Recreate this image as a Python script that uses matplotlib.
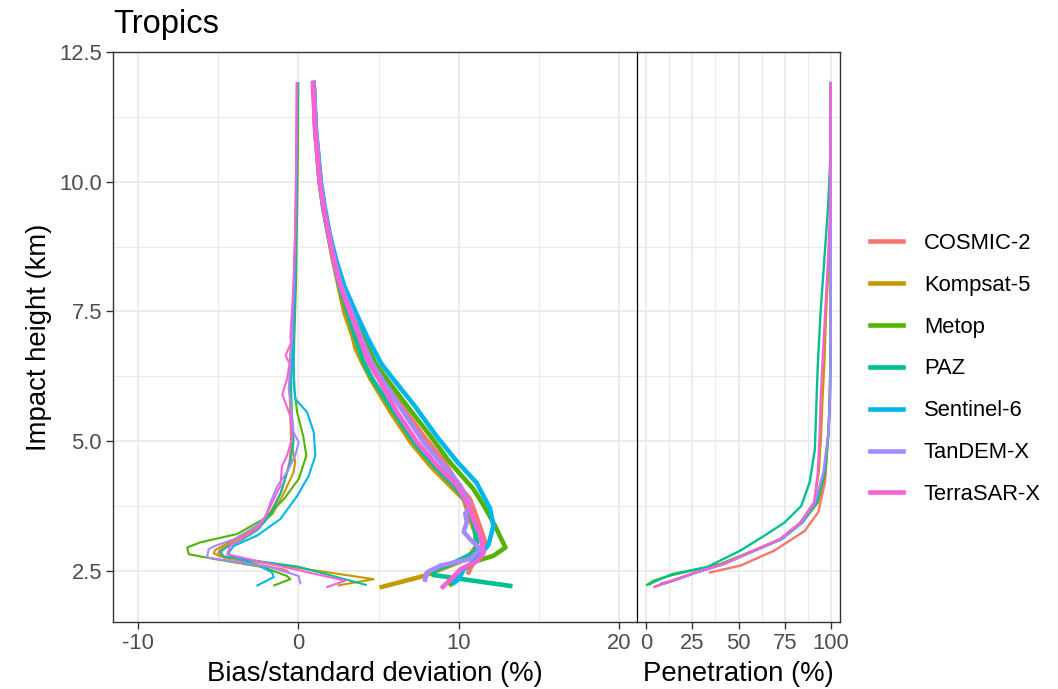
import matplotlib
matplotlib.use("Agg")
import matplotlib.pyplot as plt
from matplotlib.lines import Line2D
from matplotlib.ticker import FixedLocator

plt.rcParams['font.family'] = ['Liberation Sans', 'DejaVu Sans']

# ---------------- data ----------------
satellites = ["COSMIC-2", "Kompsat-5", "Metop", "PAZ", "Sentinel-6", "TanDEM-X", "TerraSAR-X"]
colors = ["#F8766D", "#C49A00", "#53B400", "#00C094", "#00B6EB", "#A58AFF", "#FB61D7"]

# standard deviation (%) vs impact height (km)
std_h = {
    "COSMIC-2":  [11.9, 11.0, 10.0, 9.5, 9.0, 8.5, 8.0, 7.5, 7.0, 6.5, 6.2, 5.7, 5.1, 4.6, 4.1, 3.88, 3.5, 3.05, 2.8, 2.6, 2.47],
    "Kompsat-5": [11.9, 11.0, 10.0, 9.5, 9.0, 8.5, 8.0, 7.5, 7.0, 6.8, 6.5, 6.2, 5.56, 4.98, 4.53, 4.14, 3.88, 3.5, 3.24, 2.98, 2.73, 2.6, 2.4, 2.19],
    "Metop":     [11.9, 11.0, 10.0, 9.5, 9.0, 8.5, 8.0, 7.5, 7.0, 6.5, 6.2, 5.69, 5.11, 4.59, 4.08, 3.76, 3.37, 2.95, 2.79, 2.69, 2.5, 2.35, 2.24],
    "PAZ":       [11.9, 11.0, 10.0, 9.5, 9.0, 8.5, 8.0, 7.5, 7.0, 6.5, 6.2, 5.56, 4.98, 4.53, 4.14, 3.82, 3.37, 3.05, 2.85, 2.66, 2.5, 2.42, 2.21],
    "Sentinel-6":[11.9, 11.0, 10.0, 9.5, 9.0, 8.5, 8.0, 7.5, 7.0, 6.5, 6.2, 5.7, 5.1, 4.6, 4.2, 3.7, 3.37, 3.0, 2.73, 2.53, 2.34, 2.27],
    "TanDEM-X":  [11.9, 11.0, 10.0, 9.5, 9.0, 8.5, 8.0, 7.5, 7.0, 6.5, 6.2, 5.56, 4.98, 4.53, 4.14, 3.76, 3.6, 3.44, 3.25, 3.11, 2.92, 2.73, 2.6, 2.47, 2.33],
    "TerraSAR-X":[11.9, 11.0, 10.0, 9.5, 9.0, 8.5, 8.0, 7.5, 7.0, 6.5, 6.2, 5.56, 4.98, 4.53, 4.14, 3.82, 3.5, 3.18, 2.85, 2.69, 2.53, 2.4, 2.19],
}
std_v = {
    "COSMIC-2":  [0.95, 1.07, 1.36, 1.6, 1.9, 2.25, 2.65, 3.3, 3.9, 4.55, 5.15, 6.4, 7.8, 9.1, 10.1, 10.7, 11.15, 11.65, 11.35, 10.8, 10.6],
    "Kompsat-5": [0.95, 1.05, 1.32, 1.55, 1.85, 2.15, 2.5, 2.85, 3.4, 3.55, 4.0, 4.5, 5.75, 7.0, 8.2, 9.45, 10.3, 10.7, 11.0, 11.1, 10.5, 9.45, 7.8, 5.2],
    "Metop":     [0.95, 1.08, 1.38, 1.62, 1.92, 2.25, 2.7, 3.4, 4.05, 4.8, 5.5, 6.75, 8.2, 9.45, 10.9, 11.55, 12.25, 12.9, 12.15, 11.1, 10.1, 9.8, 9.5],
    "PAZ":       [0.95, 1.05, 1.33, 1.55, 1.85, 2.2, 2.55, 3.05, 3.55, 4.1, 4.6, 5.95, 7.2, 8.45, 9.7, 10.5, 10.95, 11.15, 10.95, 9.7, 8.45, 8.4, 13.2],
    "Sentinel-6":[0.95, 1.1, 1.4, 1.65, 1.95, 2.35, 2.85, 3.55, 4.3, 5.15, 5.9, 7.2, 8.6, 9.9, 11.1, 11.95, 12.15, 11.85, 11.1, 10.3, 10.0, 9.7],
    "TanDEM-X":  [0.95, 1.07, 1.36, 1.6, 1.9, 2.25, 2.65, 3.3, 3.9, 4.6, 5.2, 6.55, 7.8, 9.05, 10.1, 10.7, 10.4, 10.5, 10.3, 10.7, 11.35, 10.7, 8.85, 8.0, 7.9],
    "TerraSAR-X":[0.9, 1.05, 1.33, 1.57, 1.87, 2.2, 2.6, 3.2, 3.8, 4.4, 5.0, 6.15, 7.4, 8.65, 9.9, 10.5, 10.9, 11.35, 11.55, 11.15, 10.1, 9.7, 9.0],
}

# bias (%) vs impact height (km)
bias_h = {
    "COSMIC-2":  [11.9, 11.0, 10.0, 9.0, 8.0, 7.5, 7.0, 6.5, 6.0, 5.5, 5.0, 4.6, 4.3, 4.0, 3.6, 3.3, 3.05, 2.9, 2.84, 2.75, 2.52, 2.47],
    "Kompsat-5": [11.9, 11.0, 10.0, 9.0, 8.0, 7.5, 7.0, 6.5, 6.0, 5.5, 5.0, 4.6, 4.4, 4.0, 3.6, 3.3, 3.05, 2.9, 2.84, 2.78, 2.34, 2.22],
    "Metop":     [11.9, 11.0, 10.0, 9.0, 8.0, 7.5, 7.0, 6.5, 6.0, 5.56, 5.1, 4.72, 4.27, 3.88, 3.5, 3.21, 3.05, 2.95, 2.82, 2.73, 2.57, 2.4, 2.34, 2.22],
    "PAZ":       [11.9, 11.0, 10.0, 9.0, 8.0, 7.5, 7.0, 6.5, 6.0, 5.5, 5.0, 4.6, 4.3, 4.0, 3.6, 3.3, 3.1, 2.95, 2.86, 2.78, 2.58, 2.23],
    "Sentinel-6":[11.9, 11.0, 10.0, 9.0, 8.0, 7.5, 7.0, 6.5, 6.0, 5.81, 5.56, 5.17, 4.72, 4.33, 3.94, 3.5, 3.18, 2.98, 2.85, 2.79, 2.62, 2.47, 2.38, 2.22],
    "TanDEM-X":  [11.9, 11.0, 10.0, 9.0, 8.0, 7.5, 7.0, 6.5, 6.0, 5.81, 5.17, 4.98, 4.72, 4.4, 4.14, 3.82, 3.56, 3.37, 3.11, 2.98, 2.92, 2.76, 2.57, 2.4, 2.26],
    "TerraSAR-X":[11.9, 11.0, 10.0, 9.0, 8.0, 7.5, 7.0, 6.9, 6.65, 6.5, 6.2, 5.9, 5.48, 5.04, 4.72, 4.52, 4.14, 3.75, 3.37, 3.18, 2.98, 2.82, 2.31, 2.19],
}
bias_v = {
    "COSMIC-2":  [-0.05, -0.08, -0.12, -0.18, -0.28, -0.35, -0.45, -0.5, -0.5, -0.45, -0.45, -0.55, -0.8, -1.1, -1.8, -2.7, -4.1, -4.9, -5.0, -4.6, -0.8, -0.6],
    "Kompsat-5": [-0.05, -0.08, -0.12, -0.18, -0.28, -0.35, -0.45, -0.5, -0.55, -0.5, -0.45, -0.2, -0.3, -0.9, -1.6, -2.8, -4.3, -5.2, -5.27, -4.9, 4.69, 2.5],
    "Metop":     [0.0, -0.02, -0.05, -0.1, -0.15, -0.2, -0.25, -0.3, -0.25, -0.08, 0.3, 0.5, 0.02, -0.91, -2.16, -3.82, -6.1, -6.93, -6.83, -5.27, -2.16, -0.71, -0.5, -1.5],
    "PAZ":       [-0.05, -0.08, -0.12, -0.18, -0.25, -0.3, -0.35, -0.4, -0.45, -0.4, -0.3, -0.5, -0.8, -1.1, -1.7, -2.5, -3.5, -4.5, -4.86, -4.65, 0.0, 4.2],
    "Sentinel-6":[-0.05, -0.08, -0.1, -0.15, -0.2, -0.25, -0.3, -0.3, -0.25, -0.19, 0.54, 0.96, 1.06, 0.64, -0.08, -1.12, -2.57, -4.03, -4.34, -4.24, -2.6, -1.64, -1.54, -2.55],
    "TanDEM-X":  [-0.1, -0.12, -0.15, -0.2, -0.3, -0.35, -0.4, -0.5, -0.6, -0.5, -0.3, 0.02, -0.2, -0.71, -1.3, -1.74, -2.0, -2.6, -4.0, -5.2, -5.59, -5.69, -1.74, 0.02, 0.12],
    "TerraSAR-X":[-0.1, -0.12, -0.15, -0.2, -0.3, -0.4, -0.5, -0.45, -0.8, -0.55, -0.7, -1.0, -0.5, -0.4, -0.71, -1.02, -1.12, -1.74, -2.37, -3.2, -4.24, -4.44, 2.93, 1.8],
}

# penetration (%) vs impact height (km)
pen_h = {
    "COSMIC-2":  [2.47, 2.6, 2.89, 3.27, 3.63, 4.21, 5.17, 5.81, 6.5, 8.0, 11.9],
    "Kompsat-5": [2.2, 2.31, 2.47, 2.63, 2.86, 3.11, 3.43, 3.82, 4.4, 5.17, 5.81, 6.5, 7.5, 8.5, 9.5, 11.9],
    "Metop":     [2.23, 2.31, 2.42, 2.5, 2.63, 2.86, 3.11, 3.43, 3.82, 4.4, 5.17, 5.81, 7.0, 11.9],
    "PAZ":       [2.24, 2.3, 2.44, 2.57, 2.89, 3.2, 3.43, 3.75, 4.21, 4.85, 5.81, 6.5, 7.5, 8.5, 9.5, 10.5, 11.9],
    "Sentinel-6":[2.24, 2.31, 2.47, 2.63, 2.86, 3.11, 3.43, 3.82, 4.4, 5.17, 5.81, 7.0, 11.9],
    "TanDEM-X":  [2.26, 2.31, 2.47, 2.63, 2.86, 3.11, 3.43, 3.82, 4.4, 5.17, 5.81, 7.0, 11.9],
    "TerraSAR-X":[2.19, 2.31, 2.47, 2.63, 2.86, 3.11, 3.43, 3.82, 4.4, 5.17, 5.81, 6.5, 7.5, 8.5, 9.5, 11.9],
}
pen_v = {
    "COSMIC-2":  [34.6, 51, 69.4, 85.9, 93.2, 96.9, 98.7, 99.4, 99.8, 100, 100],
    "Kompsat-5": [5, 14.5, 27, 41.5, 56.5, 72.5, 83.5, 91, 93.5, 94.8, 95.5, 96.5, 97.5, 99, 100, 100],
    "Metop":     [0.5, 4, 14, 24, 40, 56, 72.5, 84.5, 93, 97, 98.8, 99.5, 100, 100],
    "PAZ":       [1.6, 5, 14.3, 32.8, 51, 65, 74.9, 84, 88.6, 91.4, 92.3, 93, 94.5, 96.5, 98.5, 99.8, 100],
    "Sentinel-6":[8, 14.5, 27.5, 42, 57, 73.5, 84.5, 92, 96.5, 98.8, 99.5, 100, 100],
    "TanDEM-X":  [8, 14, 27, 41.8, 56.6, 73, 84, 91.4, 96, 98.7, 99.6, 100, 100],
    "TerraSAR-X":[4.4, 14, 26.5, 41.5, 56.5, 72.5, 83.5, 91, 93, 94, 94.5, 95.5, 97, 98.5, 99.7, 100],
}

# ---------------- figure ----------------
W, H = 1058, 689
fig = plt.figure(figsize=(W / 100, H / 100), dpi=100)
bot = (H - 621.7) / H
hgt = (621.7 - 52) / H
ax1 = fig.add_axes([113 / W, bot, (637 - 113) / W, hgt])
ax2 = fig.add_axes([637 / W, bot, (840 - 637) / W, hgt], sharey=ax1)

grid_c = "#EBEBEB"
edge_c = "#333333"
tick_c = "#4D4D4D"

for ax in (ax1, ax2):
    ax.set_axisbelow(True)
    ax.grid(which="major", color=grid_c, lw=1.3)
    ax.grid(which="minor", color=grid_c, lw=0.8)
    for s in ax.spines.values():
        s.set_color(edge_c)
        s.set_linewidth(1.0)
    ax.tick_params(which="major", direction="out", length=5, width=1.0,
                   color=edge_c, labelcolor=tick_c, labelsize=15.8, pad=3)
    ax.tick_params(which="minor", length=0)

for i, sat in enumerate(satellites):
    c = colors[i]
    ax1.plot(bias_v[sat], bias_h[sat], color=c, lw=1.5, solid_joinstyle="round", zorder=3 + i)
    ax1.plot(std_v[sat], std_h[sat], color=c, lw=3.3, solid_joinstyle="round", zorder=3 + i)
    ax2.plot(pen_v[sat], pen_h[sat], color=c, lw=1.7, solid_joinstyle="round", zorder=3 + i)

ax1.set_xlim(-11.55, 21.1)
ax1.set_ylim(1.52, 12.5)
ax1.xaxis.set_major_locator(FixedLocator([-10, 0, 10, 20]))
ax1.xaxis.set_minor_locator(FixedLocator([-5, 5, 15]))
ax1.yaxis.set_major_locator(FixedLocator([2.5, 5.0, 7.5, 10.0, 12.5]))
ax1.yaxis.set_minor_locator(FixedLocator([1.25, 3.75, 6.25, 8.75, 11.25]))
ax1.set_yticklabels(["2.5", "5.0", "7.5", "10.0", "12.5"])
ax1.set_xticklabels(["-10", "0", "10", "20"])
ax1.spines["right"].set_visible(False)

ax2.set_xlim(-5, 105)
ax2.xaxis.set_major_locator(FixedLocator([0, 25, 50, 75, 100]))
ax2.xaxis.set_minor_locator(FixedLocator([12.5, 37.5, 62.5, 87.5]))
ax2.set_xticklabels(["0", "25", "50", "75", "100"])
ax2.tick_params(axis="y", which="both", left=False, labelleft=False)
ax2.spines["left"].set_color("black")
ax2.spines["left"].set_linewidth(0.9)

ax1.set_xlabel("Bias/standard deviation (%)", fontsize=19.8, labelpad=5)
ax2.set_xlabel("Penetration (%)", fontsize=19.8, labelpad=5)
ax1.set_ylabel("Impact height (km)", fontsize=19.8, labelpad=5)

fig.text(113 / W, 1 - 33 / H, "Tropics", fontsize=23.5, ha="left", va="baseline")

handles = [Line2D([], [], color=c, lw=3.3) for c in colors]
fig.legend(handles, satellites, loc="center left",
           bbox_to_anchor=(870 / W, 1 - 369 / H), frameon=False,
           fontsize=15.8, handlelength=1.5, handletextpad=0.95,
           labelspacing=0.95, borderpad=0, borderaxespad=0)

fig.savefig("out.png", dpi=100)
